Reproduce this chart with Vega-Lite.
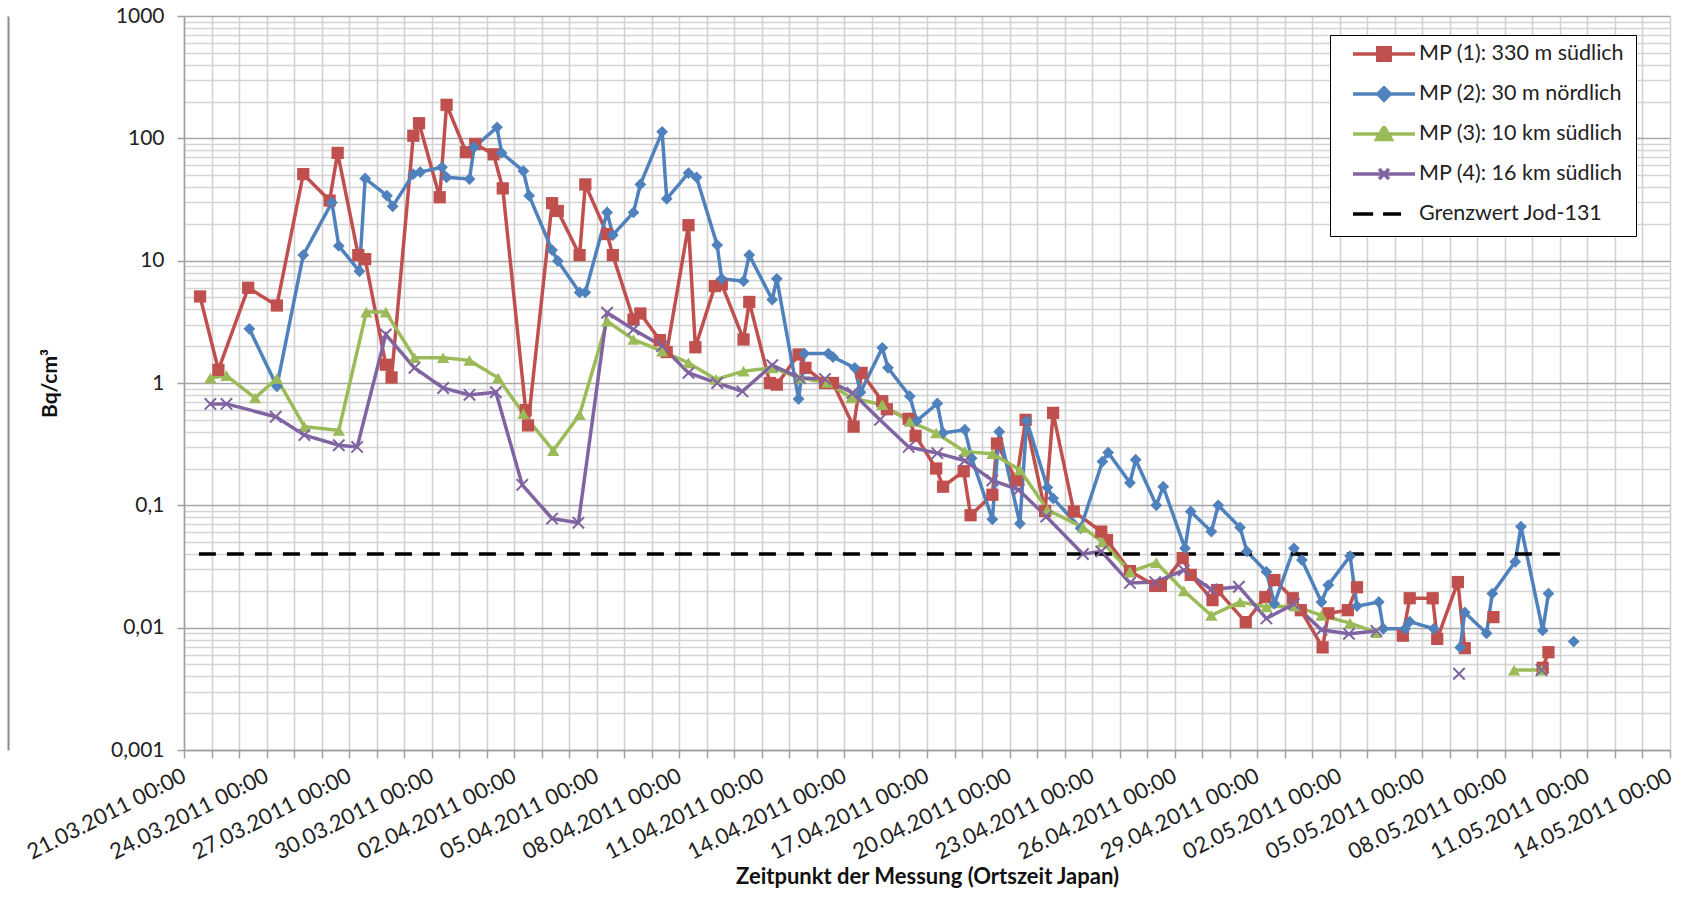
{
"$schema": "https://vega.github.io/schema/vega-lite/v6.json",
"width": 1486, "height": 734,
"autosize": {"type": "none"},
"padding": {"left": 184, "top": 16, "right": 28, "bottom": 161},
"background": "white",
"config": {"font": "Lato", "view": {"stroke": null}},
"data": {"values": [
{"s":"MP (1): 330 m südlich","t":"2011-03-21T14:00:00Z","v":5.1,"g":"a"},
{"s":"MP (1): 330 m südlich","t":"2011-03-22T06:00:00Z","v":1.28,"g":"a"},
{"s":"MP (1): 330 m südlich","t":"2011-03-23T08:00:00Z","v":6.0,"g":"a"},
{"s":"MP (1): 330 m südlich","t":"2011-03-24T09:00:00Z","v":4.3,"g":"a"},
{"s":"MP (1): 330 m südlich","t":"2011-03-25T08:00:00Z","v":51,"g":"a"},
{"s":"MP (1): 330 m südlich","t":"2011-03-26T07:00:00Z","v":31,"g":"a"},
{"s":"MP (1): 330 m südlich","t":"2011-03-26T14:00:00Z","v":76,"g":"a"},
{"s":"MP (1): 330 m südlich","t":"2011-03-27T08:00:00Z","v":11.1,"g":"a"},
{"s":"MP (1): 330 m südlich","t":"2011-03-27T14:00:00Z","v":10.3,"g":"a"},
{"s":"MP (1): 330 m südlich","t":"2011-03-28T08:00:00Z","v":1.41,"g":"a"},
{"s":"MP (1): 330 m südlich","t":"2011-03-28T13:00:00Z","v":1.11,"g":"a"},
{"s":"MP (1): 330 m südlich","t":"2011-03-29T08:00:00Z","v":105,"g":"a"},
{"s":"MP (1): 330 m südlich","t":"2011-03-29T13:00:00Z","v":133,"g":"a"},
{"s":"MP (1): 330 m südlich","t":"2011-03-30T07:00:00Z","v":33,"g":"a"},
{"s":"MP (1): 330 m südlich","t":"2011-03-30T13:00:00Z","v":188,"g":"a"},
{"s":"MP (1): 330 m südlich","t":"2011-03-31T06:00:00Z","v":77,"g":"a"},
{"s":"MP (1): 330 m südlich","t":"2011-03-31T14:00:00Z","v":90,"g":"a"},
{"s":"MP (1): 330 m südlich","t":"2011-04-01T06:00:00Z","v":74,"g":"a"},
{"s":"MP (1): 330 m südlich","t":"2011-04-01T14:00:00Z","v":39,"g":"a"},
{"s":"MP (1): 330 m südlich","t":"2011-04-02T10:00:00Z","v":0.6,"g":"a"},
{"s":"MP (1): 330 m südlich","t":"2011-04-02T12:00:00Z","v":0.45,"g":"a"},
{"s":"MP (1): 330 m südlich","t":"2011-04-03T09:00:00Z","v":29.5,"g":"a"},
{"s":"MP (1): 330 m südlich","t":"2011-04-03T14:00:00Z","v":25.5,"g":"a"},
{"s":"MP (1): 330 m südlich","t":"2011-04-04T09:00:00Z","v":11.1,"g":"a"},
{"s":"MP (1): 330 m südlich","t":"2011-04-04T14:00:00Z","v":42,"g":"a"},
{"s":"MP (1): 330 m südlich","t":"2011-04-05T09:00:00Z","v":16.5,"g":"a"},
{"s":"MP (1): 330 m südlich","t":"2011-04-05T14:00:00Z","v":11.1,"g":"a"},
{"s":"MP (1): 330 m südlich","t":"2011-04-06T08:00:00Z","v":3.3,"g":"a"},
{"s":"MP (1): 330 m südlich","t":"2011-04-06T14:00:00Z","v":3.7,"g":"a"},
{"s":"MP (1): 330 m südlich","t":"2011-04-07T07:00:00Z","v":2.24,"g":"a"},
{"s":"MP (1): 330 m südlich","t":"2011-04-07T13:00:00Z","v":1.79,"g":"a"},
{"s":"MP (1): 330 m südlich","t":"2011-04-08T08:00:00Z","v":19.5,"g":"a"},
{"s":"MP (1): 330 m südlich","t":"2011-04-08T14:00:00Z","v":1.96,"g":"a"},
{"s":"MP (1): 330 m südlich","t":"2011-04-09T07:00:00Z","v":6.2,"g":"a"},
{"s":"MP (1): 330 m südlich","t":"2011-04-09T13:00:00Z","v":6.4,"g":"a"},
{"s":"MP (1): 330 m südlich","t":"2011-04-10T08:00:00Z","v":2.27,"g":"a"},
{"s":"MP (1): 330 m südlich","t":"2011-04-10T13:00:00Z","v":4.6,"g":"a"},
{"s":"MP (1): 330 m südlich","t":"2011-04-11T07:00:00Z","v":1.0,"g":"a"},
{"s":"MP (1): 330 m südlich","t":"2011-04-11T13:00:00Z","v":0.97,"g":"a"},
{"s":"MP (1): 330 m südlich","t":"2011-04-12T08:00:00Z","v":1.71,"g":"a"},
{"s":"MP (1): 330 m südlich","t":"2011-04-12T14:00:00Z","v":1.33,"g":"a"},
{"s":"MP (1): 330 m südlich","t":"2011-04-13T07:00:00Z","v":1.0,"g":"a"},
{"s":"MP (1): 330 m südlich","t":"2011-04-13T14:00:00Z","v":1.0,"g":"a"},
{"s":"MP (1): 330 m südlich","t":"2011-04-14T08:00:00Z","v":0.44,"g":"a"},
{"s":"MP (1): 330 m südlich","t":"2011-04-14T15:00:00Z","v":1.21,"g":"a"},
{"s":"MP (1): 330 m südlich","t":"2011-04-15T09:00:00Z","v":0.71,"g":"a"},
{"s":"MP (1): 330 m südlich","t":"2011-04-15T13:00:00Z","v":0.61,"g":"a"},
{"s":"MP (1): 330 m südlich","t":"2011-04-16T08:00:00Z","v":0.51,"g":"a"},
{"s":"MP (1): 330 m südlich","t":"2011-04-16T14:00:00Z","v":0.37,"g":"a"},
{"s":"MP (1): 330 m südlich","t":"2011-04-17T08:00:00Z","v":0.2,"g":"a"},
{"s":"MP (1): 330 m südlich","t":"2011-04-17T14:00:00Z","v":0.142,"g":"a"},
{"s":"MP (1): 330 m südlich","t":"2011-04-18T08:00:00Z","v":0.19,"g":"a"},
{"s":"MP (1): 330 m südlich","t":"2011-04-18T14:00:00Z","v":0.083,"g":"a"},
{"s":"MP (1): 330 m südlich","t":"2011-04-19T09:00:00Z","v":0.122,"g":"a"},
{"s":"MP (1): 330 m südlich","t":"2011-04-19T13:00:00Z","v":0.32,"g":"a"},
{"s":"MP (1): 330 m südlich","t":"2011-04-20T06:00:00Z","v":0.16,"g":"a"},
{"s":"MP (1): 330 m südlich","t":"2011-04-20T14:00:00Z","v":0.5,"g":"a"},
{"s":"MP (1): 330 m südlich","t":"2011-04-21T07:00:00Z","v":0.09,"g":"a"},
{"s":"MP (1): 330 m südlich","t":"2011-04-21T14:00:00Z","v":0.57,"g":"a"},
{"s":"MP (1): 330 m südlich","t":"2011-04-22T08:00:00Z","v":0.089,"g":"a"},
{"s":"MP (1): 330 m südlich","t":"2011-04-23T08:00:00Z","v":0.061,"g":"a"},
{"s":"MP (1): 330 m südlich","t":"2011-04-23T13:00:00Z","v":0.052,"g":"a"},
{"s":"MP (1): 330 m südlich","t":"2011-04-24T09:00:00Z","v":0.029,"g":"a"},
{"s":"MP (1): 330 m südlich","t":"2011-04-25T07:00:00Z","v":0.022,"g":"a"},
{"s":"MP (1): 330 m südlich","t":"2011-04-25T12:00:00Z","v":0.022,"g":"a"},
{"s":"MP (1): 330 m südlich","t":"2011-04-26T07:00:00Z","v":0.037,"g":"a"},
{"s":"MP (1): 330 m südlich","t":"2011-04-26T14:00:00Z","v":0.027,"g":"a"},
{"s":"MP (1): 330 m südlich","t":"2011-04-27T09:00:00Z","v":0.0168,"g":"a"},
{"s":"MP (1): 330 m südlich","t":"2011-04-27T13:00:00Z","v":0.0203,"g":"a"},
{"s":"MP (1): 330 m südlich","t":"2011-04-28T14:00:00Z","v":0.0111,"g":"a"},
{"s":"MP (1): 330 m südlich","t":"2011-04-29T07:00:00Z","v":0.0178,"g":"a"},
{"s":"MP (1): 330 m südlich","t":"2011-04-29T15:00:00Z","v":0.0245,"g":"a"},
{"s":"MP (1): 330 m südlich","t":"2011-04-30T07:00:00Z","v":0.0174,"g":"a"},
{"s":"MP (1): 330 m südlich","t":"2011-04-30T14:00:00Z","v":0.0139,"g":"a"},
{"s":"MP (1): 330 m südlich","t":"2011-05-01T09:00:00Z","v":0.0069,"g":"a"},
{"s":"MP (1): 330 m südlich","t":"2011-05-01T14:00:00Z","v":0.0131,"g":"a"},
{"s":"MP (1): 330 m südlich","t":"2011-05-02T07:00:00Z","v":0.0139,"g":"a"},
{"s":"MP (1): 330 m südlich","t":"2011-05-02T15:00:00Z","v":0.0214,"g":"a"},
{"s":"MP (1): 330 m südlich","t":"2011-05-04T07:00:00Z","v":0.0086,"g":"b"},
{"s":"MP (1): 330 m südlich","t":"2011-05-04T13:00:00Z","v":0.0174,"g":"b"},
{"s":"MP (1): 330 m südlich","t":"2011-05-05T09:00:00Z","v":0.0174,"g":"b"},
{"s":"MP (1): 330 m südlich","t":"2011-05-05T13:00:00Z","v":0.0081,"g":"b"},
{"s":"MP (1): 330 m südlich","t":"2011-05-06T07:00:00Z","v":0.0236,"g":"b"},
{"s":"MP (1): 330 m südlich","t":"2011-05-06T13:00:00Z","v":0.0068,"g":"b"},
{"s":"MP (1): 330 m südlich","t":"2011-05-07T14:00:00Z","v":0.0122,"g":"c"},
{"s":"MP (1): 330 m südlich","t":"2011-05-09T09:00:00Z","v":0.0047,"g":"d"},
{"s":"MP (1): 330 m südlich","t":"2011-05-09T14:00:00Z","v":0.0063,"g":"d"},
{"s":"MP (2): 30 m nördlich","t":"2011-03-23T09:00:00Z","v":2.77,"g":"a"},
{"s":"MP (2): 30 m nördlich","t":"2011-03-24T09:00:00Z","v":0.94,"g":"a"},
{"s":"MP (2): 30 m nördlich","t":"2011-03-25T08:00:00Z","v":11.1,"g":"a"},
{"s":"MP (2): 30 m nördlich","t":"2011-03-26T09:00:00Z","v":29.9,"g":"a"},
{"s":"MP (2): 30 m nördlich","t":"2011-03-26T15:00:00Z","v":13.2,"g":"a"},
{"s":"MP (2): 30 m nördlich","t":"2011-03-27T09:00:00Z","v":8.2,"g":"a"},
{"s":"MP (2): 30 m nördlich","t":"2011-03-27T14:00:00Z","v":47,"g":"a"},
{"s":"MP (2): 30 m nördlich","t":"2011-03-28T09:00:00Z","v":34,"g":"a"},
{"s":"MP (2): 30 m nördlich","t":"2011-03-28T14:00:00Z","v":27.8,"g":"a"},
{"s":"MP (2): 30 m nördlich","t":"2011-03-29T08:00:00Z","v":51,"g":"a"},
{"s":"MP (2): 30 m nördlich","t":"2011-03-29T14:00:00Z","v":53,"g":"a"},
{"s":"MP (2): 30 m nördlich","t":"2011-03-30T09:00:00Z","v":58,"g":"a"},
{"s":"MP (2): 30 m nördlich","t":"2011-03-30T13:00:00Z","v":48,"g":"a"},
{"s":"MP (2): 30 m nördlich","t":"2011-03-31T09:00:00Z","v":46.5,"g":"a"},
{"s":"MP (2): 30 m nördlich","t":"2011-03-31T13:00:00Z","v":84.5,"g":"a"},
{"s":"MP (2): 30 m nördlich","t":"2011-04-01T09:00:00Z","v":123,"g":"a"},
{"s":"MP (2): 30 m nördlich","t":"2011-04-01T13:00:00Z","v":76,"g":"a"},
{"s":"MP (2): 30 m nördlich","t":"2011-04-02T08:00:00Z","v":54,"g":"a"},
{"s":"MP (2): 30 m nördlich","t":"2011-04-02T13:00:00Z","v":34,"g":"a"},
{"s":"MP (2): 30 m nördlich","t":"2011-04-03T09:00:00Z","v":12.2,"g":"a"},
{"s":"MP (2): 30 m nördlich","t":"2011-04-03T14:00:00Z","v":9.95,"g":"a"},
{"s":"MP (2): 30 m nördlich","t":"2011-04-04T09:00:00Z","v":5.5,"g":"a"},
{"s":"MP (2): 30 m nördlich","t":"2011-04-04T14:00:00Z","v":5.5,"g":"a"},
{"s":"MP (2): 30 m nördlich","t":"2011-04-05T09:00:00Z","v":24.8,"g":"a"},
{"s":"MP (2): 30 m nördlich","t":"2011-04-05T14:00:00Z","v":16.2,"g":"a"},
{"s":"MP (2): 30 m nördlich","t":"2011-04-06T08:00:00Z","v":24.8,"g":"a"},
{"s":"MP (2): 30 m nördlich","t":"2011-04-06T14:00:00Z","v":42,"g":"a"},
{"s":"MP (2): 30 m nördlich","t":"2011-04-07T09:00:00Z","v":113,"g":"a"},
{"s":"MP (2): 30 m nördlich","t":"2011-04-07T13:00:00Z","v":32,"g":"a"},
{"s":"MP (2): 30 m nördlich","t":"2011-04-08T08:00:00Z","v":52,"g":"a"},
{"s":"MP (2): 30 m nördlich","t":"2011-04-08T15:00:00Z","v":48,"g":"a"},
{"s":"MP (2): 30 m nördlich","t":"2011-04-09T09:00:00Z","v":13.4,"g":"a"},
{"s":"MP (2): 30 m nördlich","t":"2011-04-09T13:00:00Z","v":7.1,"g":"a"},
{"s":"MP (2): 30 m nördlich","t":"2011-04-10T08:00:00Z","v":6.8,"g":"a"},
{"s":"MP (2): 30 m nördlich","t":"2011-04-10T13:00:00Z","v":11.1,"g":"a"},
{"s":"MP (2): 30 m nördlich","t":"2011-04-11T09:00:00Z","v":4.8,"g":"a"},
{"s":"MP (2): 30 m nördlich","t":"2011-04-11T13:00:00Z","v":7.1,"g":"a"},
{"s":"MP (2): 30 m nördlich","t":"2011-04-12T08:00:00Z","v":0.74,"g":"a"},
{"s":"MP (2): 30 m nördlich","t":"2011-04-12T13:00:00Z","v":1.74,"g":"a"},
{"s":"MP (2): 30 m nördlich","t":"2011-04-13T10:00:00Z","v":1.74,"g":"a"},
{"s":"MP (2): 30 m nördlich","t":"2011-04-13T14:00:00Z","v":1.63,"g":"a"},
{"s":"MP (2): 30 m nördlich","t":"2011-04-14T09:00:00Z","v":1.33,"g":"a"},
{"s":"MP (2): 30 m nördlich","t":"2011-04-14T14:00:00Z","v":0.84,"g":"a"},
{"s":"MP (2): 30 m nördlich","t":"2011-04-15T09:00:00Z","v":1.94,"g":"a"},
{"s":"MP (2): 30 m nördlich","t":"2011-04-15T14:00:00Z","v":1.33,"g":"a"},
{"s":"MP (2): 30 m nördlich","t":"2011-04-16T09:00:00Z","v":0.78,"g":"a"},
{"s":"MP (2): 30 m nördlich","t":"2011-04-16T15:00:00Z","v":0.49,"g":"a"},
{"s":"MP (2): 30 m nördlich","t":"2011-04-17T09:00:00Z","v":0.68,"g":"a"},
{"s":"MP (2): 30 m nördlich","t":"2011-04-17T14:00:00Z","v":0.39,"g":"a"},
{"s":"MP (2): 30 m nördlich","t":"2011-04-18T09:00:00Z","v":0.415,"g":"a"},
{"s":"MP (2): 30 m nördlich","t":"2011-04-18T15:00:00Z","v":0.243,"g":"a"},
{"s":"MP (2): 30 m nördlich","t":"2011-04-19T09:00:00Z","v":0.077,"g":"a"},
{"s":"MP (2): 30 m nördlich","t":"2011-04-19T15:00:00Z","v":0.4,"g":"a"},
{"s":"MP (2): 30 m nördlich","t":"2011-04-20T09:00:00Z","v":0.071,"g":"a"},
{"s":"MP (2): 30 m nördlich","t":"2011-04-20T15:00:00Z","v":0.49,"g":"a"},
{"s":"MP (2): 30 m nördlich","t":"2011-04-21T09:00:00Z","v":0.14,"g":"a"},
{"s":"MP (2): 30 m nördlich","t":"2011-04-21T14:00:00Z","v":0.114,"g":"a"},
{"s":"MP (2): 30 m nördlich","t":"2011-04-22T14:00:00Z","v":0.065,"g":"a"},
{"s":"MP (2): 30 m nördlich","t":"2011-04-23T09:00:00Z","v":0.228,"g":"a"},
{"s":"MP (2): 30 m nördlich","t":"2011-04-23T14:00:00Z","v":0.27,"g":"a"},
{"s":"MP (2): 30 m nördlich","t":"2011-04-24T09:00:00Z","v":0.153,"g":"a"},
{"s":"MP (2): 30 m nördlich","t":"2011-04-24T14:00:00Z","v":0.236,"g":"a"},
{"s":"MP (2): 30 m nördlich","t":"2011-04-25T08:00:00Z","v":0.1,"g":"a"},
{"s":"MP (2): 30 m nördlich","t":"2011-04-25T14:00:00Z","v":0.142,"g":"a"},
{"s":"MP (2): 30 m nördlich","t":"2011-04-26T09:00:00Z","v":0.0445,"g":"a"},
{"s":"MP (2): 30 m nördlich","t":"2011-04-26T14:00:00Z","v":0.089,"g":"a"},
{"s":"MP (2): 30 m nördlich","t":"2011-04-27T08:00:00Z","v":0.061,"g":"a"},
{"s":"MP (2): 30 m nördlich","t":"2011-04-27T14:00:00Z","v":0.1,"g":"a"},
{"s":"MP (2): 30 m nördlich","t":"2011-04-28T09:00:00Z","v":0.066,"g":"a"},
{"s":"MP (2): 30 m nördlich","t":"2011-04-28T15:00:00Z","v":0.042,"g":"a"},
{"s":"MP (2): 30 m nördlich","t":"2011-04-29T08:00:00Z","v":0.0286,"g":"a"},
{"s":"MP (2): 30 m nördlich","t":"2011-04-29T15:00:00Z","v":0.0157,"g":"a"},
{"s":"MP (2): 30 m nördlich","t":"2011-04-30T08:00:00Z","v":0.0445,"g":"a"},
{"s":"MP (2): 30 m nördlich","t":"2011-04-30T15:00:00Z","v":0.0357,"g":"a"},
{"s":"MP (2): 30 m nördlich","t":"2011-05-01T08:00:00Z","v":0.0162,"g":"a"},
{"s":"MP (2): 30 m nördlich","t":"2011-05-01T14:00:00Z","v":0.0223,"g":"a"},
{"s":"MP (2): 30 m nördlich","t":"2011-05-02T09:00:00Z","v":0.0385,"g":"a"},
{"s":"MP (2): 30 m nördlich","t":"2011-05-02T15:00:00Z","v":0.015,"g":"a"},
{"s":"MP (2): 30 m nördlich","t":"2011-05-03T10:00:00Z","v":0.0162,"g":"a"},
{"s":"MP (2): 30 m nördlich","t":"2011-05-03T14:00:00Z","v":0.0098,"g":"a"},
{"s":"MP (2): 30 m nördlich","t":"2011-05-04T09:00:00Z","v":0.0098,"g":"a"},
{"s":"MP (2): 30 m nördlich","t":"2011-05-04T13:00:00Z","v":0.0112,"g":"a"},
{"s":"MP (2): 30 m nördlich","t":"2011-05-05T10:00:00Z","v":0.0098,"g":"a"},
{"s":"MP (2): 30 m nördlich","t":"2011-05-06T09:00:00Z","v":0.0069,"g":"b"},
{"s":"MP (2): 30 m nördlich","t":"2011-05-06T13:00:00Z","v":0.0133,"g":"b"},
{"s":"MP (2): 30 m nördlich","t":"2011-05-07T08:00:00Z","v":0.009,"g":"b"},
{"s":"MP (2): 30 m nördlich","t":"2011-05-07T13:00:00Z","v":0.019,"g":"b"},
{"s":"MP (2): 30 m nördlich","t":"2011-05-08T09:00:00Z","v":0.0346,"g":"b"},
{"s":"MP (2): 30 m nördlich","t":"2011-05-08T14:00:00Z","v":0.067,"g":"b"},
{"s":"MP (2): 30 m nördlich","t":"2011-05-09T09:00:00Z","v":0.0095,"g":"b"},
{"s":"MP (2): 30 m nördlich","t":"2011-05-09T14:00:00Z","v":0.019,"g":"b"},
{"s":"MP (2): 30 m nördlich","t":"2011-05-10T12:00:00Z","v":0.0077,"g":"c"},
{"s":"MP (3): 10 km südlich","t":"2011-03-21T23:00:00Z","v":1.1,"g":"a"},
{"s":"MP (3): 10 km südlich","t":"2011-03-22T13:00:00Z","v":1.15,"g":"a"},
{"s":"MP (3): 10 km südlich","t":"2011-03-23T14:00:00Z","v":0.755,"g":"a"},
{"s":"MP (3): 10 km südlich","t":"2011-03-24T09:00:00Z","v":1.09,"g":"a"},
{"s":"MP (3): 10 km südlich","t":"2011-03-25T09:00:00Z","v":0.44,"g":"a"},
{"s":"MP (3): 10 km südlich","t":"2011-03-26T15:00:00Z","v":0.41,"g":"a"},
{"s":"MP (3): 10 km südlich","t":"2011-03-27T15:00:00Z","v":3.8,"g":"a"},
{"s":"MP (3): 10 km südlich","t":"2011-03-28T08:00:00Z","v":3.8,"g":"a"},
{"s":"MP (3): 10 km südlich","t":"2011-03-29T09:00:00Z","v":1.61,"g":"a"},
{"s":"MP (3): 10 km südlich","t":"2011-03-30T10:00:00Z","v":1.61,"g":"a"},
{"s":"MP (3): 10 km südlich","t":"2011-03-31T09:00:00Z","v":1.53,"g":"a"},
{"s":"MP (3): 10 km südlich","t":"2011-04-01T10:00:00Z","v":1.1,"g":"a"},
{"s":"MP (3): 10 km südlich","t":"2011-04-02T08:00:00Z","v":0.56,"g":"a"},
{"s":"MP (3): 10 km südlich","t":"2011-04-03T10:00:00Z","v":0.28,"g":"a"},
{"s":"MP (3): 10 km südlich","t":"2011-04-04T09:00:00Z","v":0.55,"g":"a"},
{"s":"MP (3): 10 km südlich","t":"2011-04-05T09:00:00Z","v":3.2,"g":"a"},
{"s":"MP (3): 10 km südlich","t":"2011-04-06T08:00:00Z","v":2.27,"g":"a"},
{"s":"MP (3): 10 km südlich","t":"2011-04-07T09:00:00Z","v":1.82,"g":"a"},
{"s":"MP (3): 10 km südlich","t":"2011-04-08T08:00:00Z","v":1.46,"g":"a"},
{"s":"MP (3): 10 km südlich","t":"2011-04-09T08:00:00Z","v":1.07,"g":"a"},
{"s":"MP (3): 10 km südlich","t":"2011-04-10T08:00:00Z","v":1.25,"g":"a"},
{"s":"MP (3): 10 km südlich","t":"2011-04-11T09:00:00Z","v":1.33,"g":"a"},
{"s":"MP (3): 10 km südlich","t":"2011-04-12T09:00:00Z","v":1.1,"g":"a"},
{"s":"MP (3): 10 km südlich","t":"2011-04-13T09:00:00Z","v":1.01,"g":"a"},
{"s":"MP (3): 10 km südlich","t":"2011-04-14T06:00:00Z","v":0.755,"g":"a"},
{"s":"MP (3): 10 km südlich","t":"2011-04-15T09:00:00Z","v":0.665,"g":"a"},
{"s":"MP (3): 10 km südlich","t":"2011-04-16T09:00:00Z","v":0.485,"g":"a"},
{"s":"MP (3): 10 km südlich","t":"2011-04-17T08:00:00Z","v":0.39,"g":"a"},
{"s":"MP (3): 10 km südlich","t":"2011-04-18T09:00:00Z","v":0.275,"g":"a"},
{"s":"MP (3): 10 km südlich","t":"2011-04-19T09:00:00Z","v":0.264,"g":"a"},
{"s":"MP (3): 10 km südlich","t":"2011-04-20T09:00:00Z","v":0.195,"g":"a"},
{"s":"MP (3): 10 km südlich","t":"2011-04-21T09:00:00Z","v":0.092,"g":"a"},
{"s":"MP (3): 10 km südlich","t":"2011-04-22T16:00:00Z","v":0.066,"g":"a"},
{"s":"MP (3): 10 km südlich","t":"2011-04-23T09:00:00Z","v":0.05,"g":"a"},
{"s":"MP (3): 10 km südlich","t":"2011-04-24T09:00:00Z","v":0.0286,"g":"a"},
{"s":"MP (3): 10 km südlich","t":"2011-04-25T08:00:00Z","v":0.034,"g":"a"},
{"s":"MP (3): 10 km südlich","t":"2011-04-26T08:00:00Z","v":0.02,"g":"a"},
{"s":"MP (3): 10 km südlich","t":"2011-04-27T08:00:00Z","v":0.0126,"g":"a"},
{"s":"MP (3): 10 km südlich","t":"2011-04-28T09:00:00Z","v":0.0162,"g":"a"},
{"s":"MP (3): 10 km südlich","t":"2011-04-29T08:00:00Z","v":0.0148,"g":"a"},
{"s":"MP (3): 10 km südlich","t":"2011-04-30T09:00:00Z","v":0.015,"g":"a"},
{"s":"MP (3): 10 km südlich","t":"2011-05-01T08:00:00Z","v":0.0126,"g":"a"},
{"s":"MP (3): 10 km südlich","t":"2011-05-02T09:00:00Z","v":0.0109,"g":"a"},
{"s":"MP (3): 10 km südlich","t":"2011-05-03T08:00:00Z","v":0.0091,"g":"a"},
{"s":"MP (3): 10 km südlich","t":"2011-05-08T08:00:00Z","v":0.0045,"g":"b"},
{"s":"MP (3): 10 km südlich","t":"2011-05-09T08:00:00Z","v":0.0045,"g":"b"},
{"s":"MP (4): 16 km südlich","t":"2011-03-21T23:00:00Z","v":0.675,"g":"a"},
{"s":"MP (4): 16 km südlich","t":"2011-03-22T13:00:00Z","v":0.675,"g":"a"},
{"s":"MP (4): 16 km südlich","t":"2011-03-24T08:00:00Z","v":0.53,"g":"a"},
{"s":"MP (4): 16 km südlich","t":"2011-03-25T09:00:00Z","v":0.375,"g":"a"},
{"s":"MP (4): 16 km südlich","t":"2011-03-26T15:00:00Z","v":0.31,"g":"a"},
{"s":"MP (4): 16 km südlich","t":"2011-03-27T07:00:00Z","v":0.3,"g":"a"},
{"s":"MP (4): 16 km südlich","t":"2011-03-28T08:00:00Z","v":2.49,"g":"a"},
{"s":"MP (4): 16 km südlich","t":"2011-03-29T09:00:00Z","v":1.33,"g":"a"},
{"s":"MP (4): 16 km südlich","t":"2011-03-30T10:00:00Z","v":0.91,"g":"a"},
{"s":"MP (4): 16 km südlich","t":"2011-03-31T09:00:00Z","v":0.8,"g":"a"},
{"s":"MP (4): 16 km südlich","t":"2011-04-01T08:00:00Z","v":0.84,"g":"a"},
{"s":"MP (4): 16 km südlich","t":"2011-04-02T07:00:00Z","v":0.147,"g":"a"},
{"s":"MP (4): 16 km südlich","t":"2011-04-03T09:00:00Z","v":0.078,"g":"a"},
{"s":"MP (4): 16 km südlich","t":"2011-04-04T08:00:00Z","v":0.072,"g":"a"},
{"s":"MP (4): 16 km südlich","t":"2011-04-05T09:00:00Z","v":3.76,"g":"a"},
{"s":"MP (4): 16 km südlich","t":"2011-04-06T08:00:00Z","v":2.74,"g":"a"},
{"s":"MP (4): 16 km südlich","t":"2011-04-07T09:00:00Z","v":2.0,"g":"a"},
{"s":"MP (4): 16 km südlich","t":"2011-04-08T08:00:00Z","v":1.21,"g":"a"},
{"s":"MP (4): 16 km südlich","t":"2011-04-09T09:00:00Z","v":1.0,"g":"a"},
{"s":"MP (4): 16 km südlich","t":"2011-04-10T07:00:00Z","v":0.855,"g":"a"},
{"s":"MP (4): 16 km südlich","t":"2011-04-11T09:00:00Z","v":1.4,"g":"a"},
{"s":"MP (4): 16 km südlich","t":"2011-04-12T09:00:00Z","v":1.1,"g":"a"},
{"s":"MP (4): 16 km südlich","t":"2011-04-13T07:00:00Z","v":1.08,"g":"a"},
{"s":"MP (4): 16 km südlich","t":"2011-04-14T07:00:00Z","v":0.83,"g":"a"},
{"s":"MP (4): 16 km südlich","t":"2011-04-15T07:00:00Z","v":0.5,"g":"a"},
{"s":"MP (4): 16 km südlich","t":"2011-04-16T08:00:00Z","v":0.3,"g":"a"},
{"s":"MP (4): 16 km südlich","t":"2011-04-17T09:00:00Z","v":0.267,"g":"a"},
{"s":"MP (4): 16 km südlich","t":"2011-04-18T09:00:00Z","v":0.232,"g":"a"},
{"s":"MP (4): 16 km südlich","t":"2011-04-19T09:00:00Z","v":0.16,"g":"a"},
{"s":"MP (4): 16 km südlich","t":"2011-04-20T08:00:00Z","v":0.134,"g":"a"},
{"s":"MP (4): 16 km südlich","t":"2011-04-21T08:00:00Z","v":0.081,"g":"a"},
{"s":"MP (4): 16 km südlich","t":"2011-04-22T16:00:00Z","v":0.04,"g":"a"},
{"s":"MP (4): 16 km südlich","t":"2011-04-23T08:00:00Z","v":0.042,"g":"a"},
{"s":"MP (4): 16 km südlich","t":"2011-04-24T09:00:00Z","v":0.0232,"g":"a"},
{"s":"MP (4): 16 km südlich","t":"2011-04-25T07:00:00Z","v":0.0236,"g":"a"},
{"s":"MP (4): 16 km südlich","t":"2011-04-26T08:00:00Z","v":0.0295,"g":"a"},
{"s":"MP (4): 16 km südlich","t":"2011-04-27T08:00:00Z","v":0.0205,"g":"a"},
{"s":"MP (4): 16 km südlich","t":"2011-04-28T08:00:00Z","v":0.0216,"g":"a"},
{"s":"MP (4): 16 km südlich","t":"2011-04-29T08:00:00Z","v":0.0119,"g":"a"},
{"s":"MP (4): 16 km südlich","t":"2011-04-30T08:00:00Z","v":0.0156,"g":"a"},
{"s":"MP (4): 16 km südlich","t":"2011-05-01T08:00:00Z","v":0.0096,"g":"a"},
{"s":"MP (4): 16 km südlich","t":"2011-05-02T08:00:00Z","v":0.0089,"g":"a"},
{"s":"MP (4): 16 km südlich","t":"2011-05-03T08:00:00Z","v":0.0094,"g":"a"},
{"s":"MP (4): 16 km südlich","t":"2011-05-06T08:00:00Z","v":0.0042,"g":"b"},
{"s":"MP (4): 16 km südlich","t":"2011-05-09T08:00:00Z","v":0.0045,"g":"c"},
{"s":"Grenzwert Jod-131","t":"2011-03-21T13:00:00Z","v":0.04,"g":"a"},
{"s":"Grenzwert Jod-131","t":"2011-05-10T08:00:00Z","v":0.04,"g":"a"}
]},
"layer": [
{
 "mark": {"type": "line", "strokeWidth": 3.5},
 "encoding": {
  "x": {"field": "t", "type": "temporal",
   "scale": {"type": "utc", "nice": false, "domain": [{"year": 2011, "month": 3, "date": 21, "utc": true}, {"year": 2011, "month": 5, "date": 14, "utc": true}]},
   "axis": {"title": "Zeitpunkt der Messung (Ortszeit Japan)", "tickCount": 200,
    "values": [1300665600000,1300752000000,1300838400000,1300924800000,1301011200000,1301097600000,1301184000000,1301270400000,1301356800000,1301443200000,1301529600000,1301616000000,1301702400000,1301788800000,1301875200000,1301961600000,1302048000000,1302134400000,1302220800000,1302307200000,1302393600000,1302480000000,1302566400000,1302652800000,1302739200000,1302825600000,1302912000000,1302998400000,1303084800000,1303171200000,1303257600000,1303344000000,1303430400000,1303516800000,1303603200000,1303689600000,1303776000000,1303862400000,1303948800000,1304035200000,1304121600000,1304208000000,1304294400000,1304380800000,1304467200000,1304553600000,1304640000000,1304726400000,1304812800000,1304899200000,1304985600000,1305072000000,1305158400000,1305244800000,1305331200000],
    "labelExpr": "(round((datum.value - 1300665600000) / 86400000) % 3 == 0) ? utcFormat(datum.value, '%d.%m.%Y %H:%M') : ''",
    "labelAngle": -27, "labelAlign": "right", "labelBaseline": "middle", "labelFontSize": 22, "labelColor": "#222222", "labelOverlap": false, "labelFlush": false, "labelBound": false, "labelPadding": 16,
    "tickSize": 8, "tickColor": "#a0a0a0", "tickWidth": 1.5, "domainColor": "#a0a0a0", "domainWidth": 1.5,
    "grid": true, "gridColor": "#d0d0d0", "gridWidth": 1.5,
    "titleFontSize": 22, "titleFontWeight": "bold", "titleColor": "#111111", "titlePadding": 3}},
  "y": {"field": "v", "type": "quantitative",
   "scale": {"type": "log", "domain": [0.001, 1000], "nice": false},
   "axis": {"title": "Bq/cm³", "values": [0.001, 0.01, 0.1, 1, 10, 100, 1000],
    "labelExpr": "datum.value < 1 ? replace(format(datum.value, '.3~f'), '.', ',') : format(datum.value, 'd')",
    "labelFontSize": 21, "labelColor": "#222222", "labelPadding": 13, "tickSize": 7, "tickColor": "#a0a0a0", "tickWidth": 1.5,
    "domainColor": "#a0a0a0", "domainWidth": 1.5, "grid": true, "gridColor": "#a6a6a6", "gridWidth": 1.5,
    "titleFontSize": 21, "titleFontWeight": "bold", "titleColor": "#111111", "titlePadding": 50}},
  "color": {"field": "s", "type": "nominal", "legend": null,
   "scale": {"domain": ["MP (1): 330 m südlich", "MP (2): 30 m nördlich", "MP (3): 10 km südlich", "MP (4): 16 km südlich", "Grenzwert Jod-131"],
    "range": ["#C0504D", "#4F81BD", "#9BBB59", "#8064A2", "#000000"]}},
  "strokeDash": {"field": "s", "type": "nominal", "legend": null,
   "scale": {"domain": ["MP (1): 330 m südlich", "MP (2): 30 m nördlich", "MP (3): 10 km südlich", "MP (4): 16 km südlich", "Grenzwert Jod-131"],
    "range": [[1, 0], [1, 0], [1, 0], [1, 0], [17, 11]]}},
  "detail": {"field": "g", "type": "nominal"}
 }
},
{
 "transform": [{"filter": {"field": "s", "equal": "MP (1): 330 m südlich"}}],
 "mark": {"type": "point", "filled": true, "size": 150, "opacity": 1, "shape": "square"},
 "encoding": {
  "x": {"field": "t", "type": "temporal"},
  "y": {"field": "v", "type": "quantitative",
   "axis": {"orient": "left", "title": null, "labels": false, "ticks": false, "domain": false, "grid": true, "gridColor": "#d4d4d4", "gridWidth": 1.5, "tickCount": 200,
    "values": [0.002,0.003,0.004,0.005,0.006,0.007,0.008,0.009,0.02,0.03,0.04,0.05,0.06,0.07,0.08,0.09,0.2,0.3,0.4,0.5,0.6,0.7,0.8,0.9,2,3,4,5,6,7,8,9,20,30,40,50,60,70,80,90,200,300,400,500,600,700,800,900]}},
  "color": {"field": "s", "type": "nominal", "legend": null}
 }
},
{
 "transform": [{"filter": {"field": "s", "equal": "MP (2): 30 m nördlich"}}],
 "mark": {"type": "point", "filled": true, "size": 140, "opacity": 1, "shape": "diamond"},
 "encoding": {
  "x": {"field": "t", "type": "temporal"},
  "y": {"field": "v", "type": "quantitative", "axis": null},
  "color": {"field": "s", "type": "nominal", "legend": null}
 }
},
{
 "transform": [{"filter": {"field": "s", "equal": "MP (3): 10 km südlich"}}],
 "mark": {"type": "point", "filled": true, "size": 150, "opacity": 1, "shape": "triangle-up"},
 "encoding": {
  "x": {"field": "t", "type": "temporal"},
  "y": {"field": "v", "type": "quantitative", "axis": null},
  "color": {"field": "s", "type": "nominal", "legend": null}
 }
},
{
 "transform": [{"filter": {"field": "s", "equal": "MP (4): 16 km südlich"}}],
 "mark": {"type": "point", "filled": false, "size": 130, "strokeWidth": 2, "opacity": 1, "shape": "M-1,-1L1,1M1,-1L-1,1"},
 "encoding": {
  "x": {"field": "t", "type": "temporal"},
  "y": {"field": "v", "type": "quantitative",
   "axis": {"orient": "left", "offset": 176, "title": null, "labels": false, "ticks": false, "grid": false, "domain": true, "domainColor": "#8c8c8c", "domainWidth": 2, "values": []}},
  "color": {"field": "s", "type": "nominal", "legend": null}
 }
},
{
 "mark": {"type": "point", "filled": true, "size": 3844, "opacity": 0},
 "encoding": {
  "fill": {"field": "s", "type": "nominal",
   "scale": {"domain": ["Grenzwert Jod-131", "MP (4): 16 km südlich", "MP (3): 10 km südlich", "MP (2): 30 m nördlich", "MP (1): 330 m südlich"],
    "range": ["#000000", "#8064A2", "#9BBB59", "#4F81BD", "#C0504D"]}},
  "stroke": {"field": "s", "type": "nominal",
   "scale": {"domain": ["Grenzwert Jod-131", "MP (4): 16 km südlich", "MP (3): 10 km südlich", "MP (2): 30 m nördlich", "MP (1): 330 m südlich"],
    "range": ["#000000", "#8064A2", "#9BBB59", "#4F81BD", "#C0504D"]}},
  "shape": {"field": "s", "type": "nominal",
   "scale": {"domain": ["Grenzwert Jod-131", "MP (4): 16 km südlich", "MP (3): 10 km südlich", "MP (2): 30 m nördlich", "MP (1): 330 m südlich"],
    "range": ["M-1,0H-0.35M-0.03,0H0.55", "M-1,0H1M-0.16,-0.16L0.16,0.16M0.16,-0.16L-0.16,0.16", "M-1,0H1M0,-0.24L0.24,0.18H-0.24Z", "M-1,0H1M0,-0.2L0.2,0L0,0.2L-0.2,0Z", "M-1,0H1M-0.2,-0.2H0.2V0.2H-0.2Z"]},
   "legend": {"title": null, "orient": "none", "legendX": 1146, "legendY": 19, "direction": "vertical",
    "values": ["MP (1): 330 m südlich", "MP (2): 30 m nördlich", "MP (3): 10 km südlich", "MP (4): 16 km südlich", "Grenzwert Jod-131"],
    "strokeColor": "#000000", "fillColor": "#ffffff", "padding": 11,
    "labelFont": "Lato", "labelFontSize": 21.5, "labelColor": "#222222", "labelOffset": 2, "labelLimit": 400,
    "symbolSize": 3844, "symbolStrokeWidth": 3.5, "symbolOffset": 10, "clipHeight": 16, "rowPadding": 18, "symbolOpacity": 1}}
 }
}
],
"resolve": {"axis": {"y": "independent"}}
}
